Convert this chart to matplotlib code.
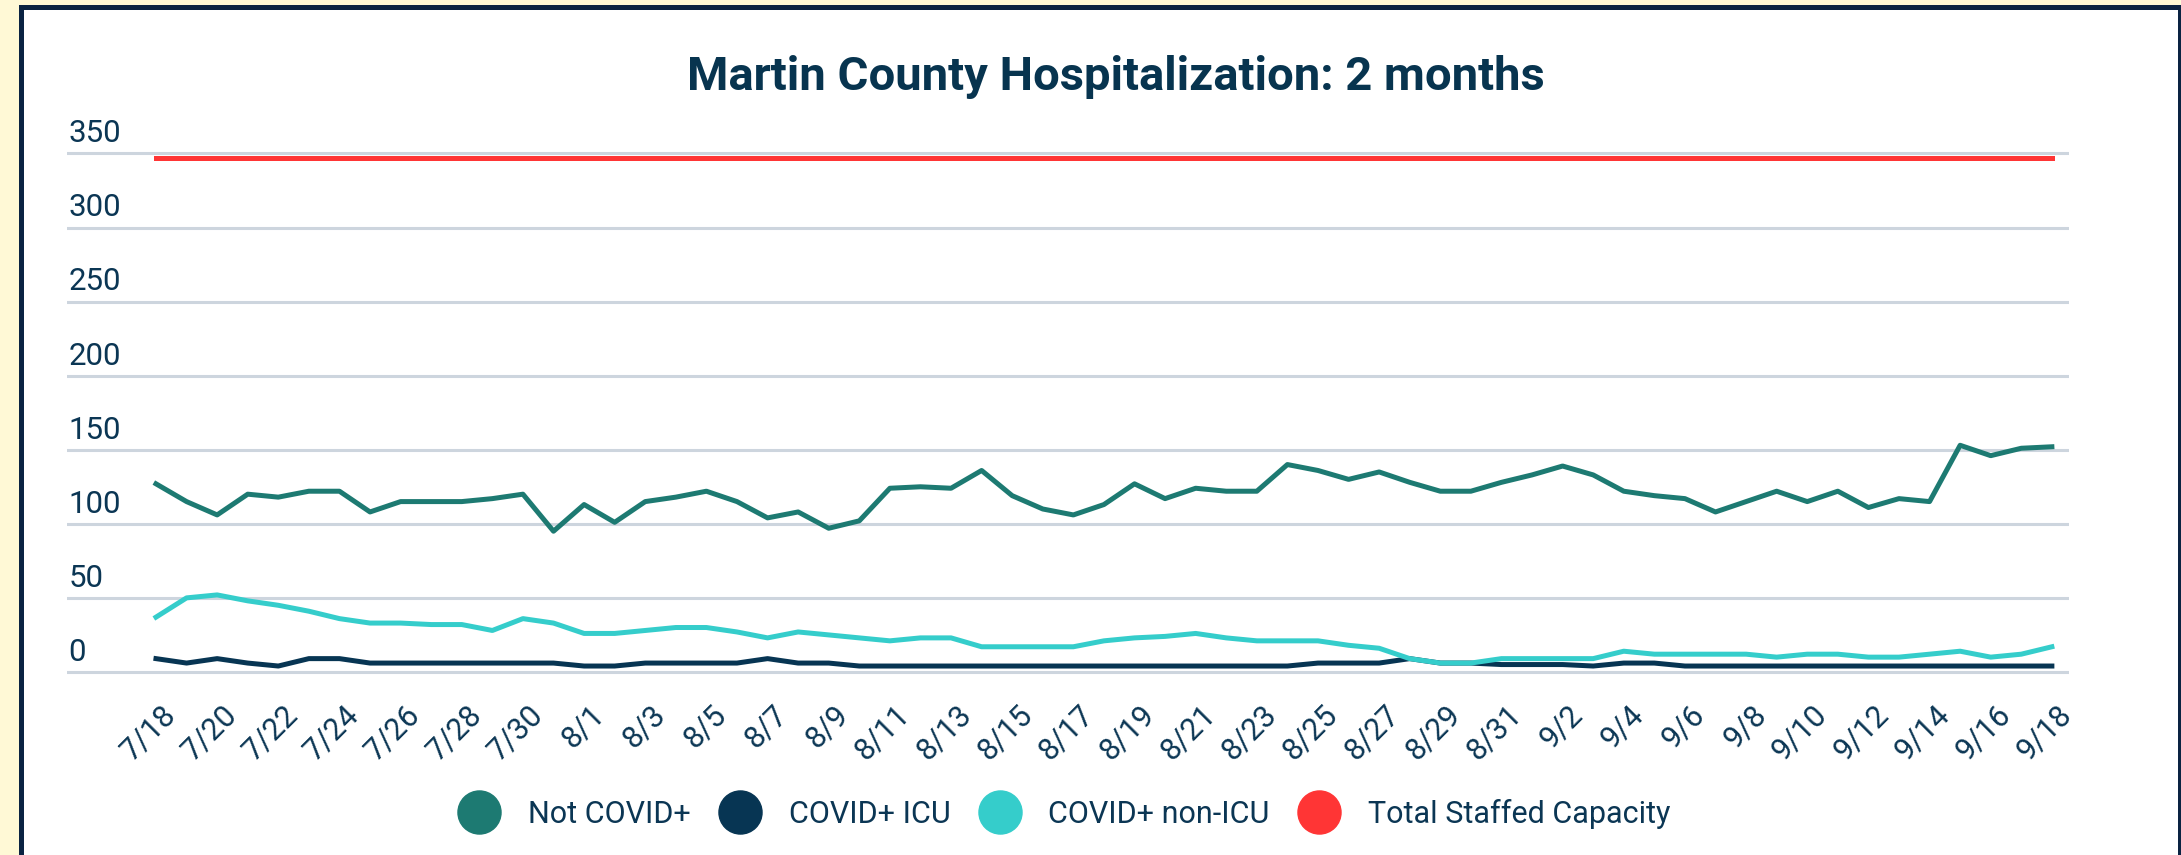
import pandas as pd
import matplotlib.pyplot as plt
import matplotlib.transforms as mtransforms
from matplotlib.patches import Rectangle
from matplotlib.lines import Line2D

# data, one value per day 7/18 .. 9/18
dates = pd.date_range("2020-07-18", "2020-09-18")
labels = [f"{d.month}/{d.day}" for d in dates]

not_covid = [127, 115, 106, 120, 118, 122, 122, 108, 115, 115,
             115, 117, 120, 95, 113, 101, 115, 118, 122, 115,
             104, 108, 97, 102, 124, 125, 124, 136, 119, 110,
             106, 113, 127, 117, 124, 122, 122, 140, 136, 130,
             135, 128, 122, 122, 128, 133, 139, 133, 122, 119,
             117, 108, 115, 122, 115, 122, 111, 117, 115, 153,
             146, 151, 152]
covid_icu = [9, 6, 9, 6, 4, 9, 9, 6, 6, 6,
             6, 6, 6, 6, 4, 4, 6, 6, 6, 6,
             9, 6, 6, 4, 4, 4, 4, 4, 4, 4,
             4, 4, 4, 4, 4, 4, 4, 4, 6, 6,
             6, 9, 6, 6, 5, 5, 5, 4, 6, 6,
             4, 4, 4, 4, 4, 4, 4, 4, 4, 4,
             4, 4, 4]
covid_non_icu = [37, 50, 52, 48, 45, 41, 36, 33, 33, 32,
                 32, 28, 36, 33, 26, 26, 28, 30, 30, 27,
                 23, 27, 25, 23, 21, 23, 23, 17, 17, 17,
                 17, 21, 23, 24, 26, 23, 21, 21, 21, 18,
                 16, 9, 6, 6, 9, 9, 9, 9, 14, 12,
                 12, 12, 12, 10, 12, 12, 10, 10, 12, 14,
                 10, 12, 17]
capacity = [347, 347, 347, 347, 347, 347, 347, 347, 347, 347,
            347, 347, 347, 347, 347, 347, 347, 347, 347, 347,
            347, 347, 347, 347, 347, 347, 347, 347, 347, 347,
            347, 347, 347, 347, 347, 347, 347, 347, 347, 347,
            347, 347, 347, 347, 347, 347, 347, 347, 347, 347,
            347, 347, 347, 347, 347, 347, 347, 347, 347, 347,
            347, 347, 347]
y_ticks = [0, 50, 100, 150, 200, 250, 300, 350]

series_names = ["Not COVID+", "COVID+ ICU", "COVID+ non-ICU", "Total Staffed Capacity"]
colors = ["#1d7a72", "#073553", "#35cdcb", "#ff3535"]
text_color = "#0b3654"
grid_color = "#cdd5de"

plt.rcParams['font.family'] = ['Roboto', 'DejaVu Sans']

W, H = 2181, 855
fig = plt.figure(figsize=(W / 100, H / 100), dpi=100)
fig.patch.set_facecolor("#fff9d6")

# framed white panel, kept behind the axes
fig.patches.append(Rectangle((19 / W, 0), 1 - 19 / W, 1 - 5 / H, transform=fig.transFigure,
                             facecolor="#0a2342", edgecolor="none", zorder=-10))
fig.patches.append(Rectangle((24 / W, 0), (2178 - 24) / W, 1 - 10 / H, transform=fig.transFigure,
                             facecolor="white", edgecolor="none", zorder=-9))

ax = fig.add_axes([67 / W, 1 - 676.4 / H, (2069 - 67) / W, (676.4 - 149.0) / H])
ax.set_facecolor("none")

x = list(range(len(labels)))
ax.plot(x, not_covid, color=colors[0], lw=3.6, zorder=3)
ax.plot(x, covid_icu, color=colors[1], lw=3.6, zorder=3)
ax.plot(x, covid_non_icu, color=colors[2], lw=3.6, zorder=4)
ax.plot(x, capacity, color=colors[3], lw=3.6, zorder=3)

ax.set_xlim(-2.91, 62.56)
ax.set_ylim(-3, 353)

for v in y_ticks:
    ax.axhline(v, color=grid_color, lw=2.2, zorder=1)
    ax.annotate(str(v), xy=(0, v), xycoords=ax.get_yaxis_transform(),
                xytext=(1, 8), textcoords="offset points",
                ha="left", va="baseline", fontsize=22.5, color=text_color)
ax.set_yticks([])

ax.set_xticks(x[::2])
ax.set_xticklabels(labels[::2], rotation=45, ha="right", va="top",
                   rotation_mode="anchor", fontsize=22, color=text_color)
ax.tick_params(axis="x", length=0, pad=17)
offset = mtransforms.ScaledTranslation(5 / 100, 0, fig.dpi_scale_trans)
for lab in ax.get_xticklabels():
    lab.set_transform(lab.get_transform() + offset)

for s in ax.spines.values():
    s.set_visible(False)

fig.text(1116 / W, 1 - 90 / H, "Martin County Hospitalization: 2 months",
         ha="center", va="baseline", fontsize=34, fontweight="bold", color="#07344f")

handles = [Line2D([], [], linestyle="none", marker="o", markersize=31,
                  markerfacecolor=c, markeredgecolor=c) for c in colors]
fig.legend(handles, series_names, loc="center", bbox_to_anchor=(1064 / W, 1 - 814 / H),
           ncol=4, frameon=False, fontsize=22, labelcolor=text_color,
           handlelength=1.4, handletextpad=0.9, columnspacing=0.9)

fig.savefig("out.png", dpi=100, facecolor=fig.get_facecolor())
